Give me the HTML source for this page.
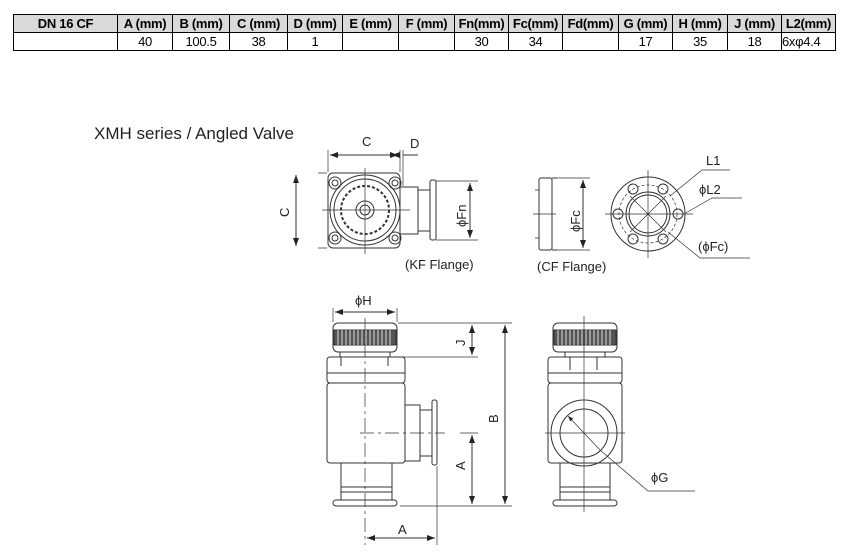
<!DOCTYPE html>
<html><head><meta charset="utf-8"><style>
body{margin:0;width:848px;height:552px;background:#fff;overflow:hidden;position:relative;font-family:"Liberation Sans",Arial,sans-serif}
table{position:absolute;left:13px;top:14px;border-collapse:collapse;table-layout:fixed;width:822px}
td{border:1px solid #000;height:17px;padding:0;font-size:13px;text-align:center;line-height:16px;white-space:nowrap;overflow:hidden;letter-spacing:-0.3px}
tr.h td{background:#d9d9d9;font-weight:bold}
svg{position:absolute;left:0;top:0}
</style></head><body>
<table>
<colgroup><col style="width:104px"><col style="width:55px"><col style="width:57px"><col style="width:58px"><col style="width:55px"><col style="width:56px"><col style="width:56px"><col style="width:54px"><col style="width:54px"><col style="width:56px"><col style="width:54px"><col style="width:55px"><col style="width:54px"><col style="width:54px"></colgroup>
<tr class="h"><td>DN 16 CF</td><td>A (mm)</td><td>B (mm)</td><td>C (mm)</td><td>D (mm)</td><td>E (mm)</td><td>F (mm)</td><td>Fn(mm)</td><td>Fc(mm)</td><td>Fd(mm)</td><td>G (mm)</td><td>H (mm)</td><td>J (mm)</td><td>L2(mm)</td></tr>
<tr><td></td><td>40</td><td>100.5</td><td>38</td><td>1</td><td></td><td></td><td>30</td><td>34</td><td></td><td>17</td><td>35</td><td>18</td><td style="text-align:left">6xφ4.4</td></tr>
</table>
<svg width="848" height="552" viewBox="0 0 848 552" font-family="Liberation Sans,Arial,sans-serif" fill="none" stroke="#333" stroke-width="1">
<defs><marker id="a" markerWidth="8" markerHeight="6" refX="8" refY="3" orient="auto-start-reverse"><path d="M0,0L8,3L0,6z" fill="#222" stroke="none"/></marker></defs>
<text x="94" y="139" font-size="17" fill="#222" stroke="none">XMH series / Angled Valve</text>
<!-- top view KF -->
<g>
<rect x="328" y="173" width="72" height="75" rx="5"/>
<circle cx="365" cy="210" r="35"/><circle cx="365" cy="210" r="31"/><circle cx="365" cy="210" r="24" stroke-dasharray="3 2" stroke-width="2"/><circle cx="365" cy="210" r="9"/><circle cx="365" cy="210" r="5"/>
<circle cx="335" cy="183" r="6"/><circle cx="395" cy="183" r="6"/><circle cx="335" cy="238" r="6"/><circle cx="395" cy="238" r="6"/>
<circle cx="335" cy="183" r="3"/><circle cx="395" cy="183" r="3"/><circle cx="335" cy="238" r="3"/><circle cx="395" cy="238" r="3"/>
<rect x="400" y="187" width="18" height="47"/><rect x="418" y="190" width="12" height="41"/><rect x="430" y="180" width="6" height="60" rx="2"/>
<path d="M322 210H410M365 168V254" stroke-width="0.7"/>
<path d="M328 150V172M400 150V172M403 150V186M318 173H327M318 248H327M436 181H478M436 240H478" stroke-width="0.7"/>
<path d="M330 155H398" marker-start="url(#a)" marker-end="url(#a)"/>
<path d="M392 155H400M403 155H418" marker-start="url(#a)"/>
<path d="M296 175V246" marker-start="url(#a)" marker-end="url(#a)"/>
<path d="M470 183V238" marker-start="url(#a)" marker-end="url(#a)"/>
<text x="362" y="146" font-size="13" fill="#222" stroke="none">C</text>
<text x="410" y="148" font-size="13" fill="#222" stroke="none">D</text>
<text transform="translate(289,217) rotate(-90)" font-size="13" fill="#222" stroke="none">C</text>
<text transform="translate(466,227) rotate(-90)" font-size="13" fill="#222" stroke="none">ϕFn</text>
<text x="405" y="269" font-size="13" fill="#222" stroke="none">(KF Flange)</text>
</g>
<!-- CF side -->
<g>
<rect x="539" y="178" width="13" height="72" rx="2"/><path d="M552 178H557M552 250H557"/>
<path d="M533 214H556M535 190H539M535 238H539" stroke-width="0.7"/>
<path d="M556 178H590M556 250H590" stroke-width="0.7"/>
<path d="M583 180V248" marker-start="url(#a)" marker-end="url(#a)"/>
<text transform="translate(580,232) rotate(-90)" font-size="13" fill="#222" stroke="none">ϕFc</text>
<text x="537" y="271" font-size="13" fill="#222" stroke="none">(CF Flange)</text>
</g>
<!-- CF front -->
<g>
<circle cx="648" cy="214" r="37"/><circle cx="648" cy="214" r="22"/><circle cx="648" cy="214" r="19"/>
<circle cx="648" cy="214" r="29" stroke-dasharray="3 2" stroke-width="0.7"/>
<circle cx="618" cy="214" r="5"/><circle cx="678" cy="214" r="5"/><circle cx="633" cy="189" r="5"/><circle cx="663" cy="189" r="5"/><circle cx="633" cy="239" r="5"/><circle cx="663" cy="239" r="5"/>
<path d="M605 214H693M648 170V258M630 196L666 232M666 196L630 232" stroke-width="0.7"/>
<path d="M670 196L702 170H730M684 214L712 198H742M668 232L700 258H750" stroke-width="0.7"/>
<text x="706" y="165" font-size="13" fill="#222" stroke="none">L1</text>
<text x="699" y="194" font-size="13" fill="#222" stroke="none">ϕL2</text>
<text x="698" y="251" font-size="13" fill="#222" stroke="none">(ϕFc)</text>
</g>
<!-- front valve -->
<g>
<rect x="333" y="323" width="64" height="29" rx="5"/>
<rect x="334" y="330" width="62" height="15" fill="#555"/>
<path d="M338 330V345M342 330V345M346 330V345M350 330V345M354 330V345M358 330V345M362 330V345M366 330V345M370 330V345M374 330V345M378 330V345M382 330V345M386 330V345M390 330V345" stroke="#ddd" stroke-width="1"/>
<rect x="340" y="352" width="50" height="5"/>
<rect x="327" y="357" width="78" height="26" rx="3"/><path d="M327 373H405M341 357V366M388 357V366"/>
<rect x="327" y="383" width="78" height="80" rx="3"/>
<rect x="405" y="405" width="15" height="56"/><rect x="420" y="410" width="12" height="46"/><rect x="432" y="400" width="5" height="65" rx="2"/>
<rect x="341" y="463" width="51" height="37"/><path d="M341 487H392M341 492H392"/>
<rect x="333" y="500" width="64" height="6" rx="3"/>
<path d="M365 318V545" stroke-dasharray="14 4 3 4" stroke-width="0.7"/>
<path d="M360 433H445" stroke-dasharray="14 4 3 4" stroke-width="0.7"/>
<path d="M333 308V322M397 308V322M398 323H512M398 357H478M437 466V545M400 506H512M460 433H478" stroke-width="0.7"/>
<path d="M335 312H395" marker-start="url(#a)" marker-end="url(#a)"/>
<path d="M472 325V355" marker-start="url(#a)" marker-end="url(#a)"/>
<path d="M505 325V504" marker-start="url(#a)" marker-end="url(#a)"/>
<path d="M472 435V504" marker-start="url(#a)" marker-end="url(#a)"/>
<path d="M367 538H435" marker-start="url(#a)" marker-end="url(#a)"/>
<text x="355" y="305" font-size="13" fill="#222" stroke="none">ϕH</text>
<text transform="translate(465,346) rotate(-90)" font-size="13" fill="#222" stroke="none">J</text>
<text transform="translate(498,423) rotate(-90)" font-size="13" fill="#222" stroke="none">B</text>
<text transform="translate(465,470) rotate(-90)" font-size="13" fill="#222" stroke="none">A</text>
<text x="398" y="534" font-size="13" fill="#222" stroke="none">A</text>
</g>
<!-- side valve -->
<g>
<rect x="553" y="323" width="64" height="29" rx="5"/>
<rect x="554" y="330" width="62" height="15" fill="#555"/>
<path d="M558 330V345M562 330V345M566 330V345M570 330V345M574 330V345M578 330V345M582 330V345M586 330V345M590 330V345M594 330V345M598 330V345M602 330V345M606 330V345M610 330V345" stroke="#ddd"/>
<rect x="565" y="352" width="40" height="5"/>
<rect x="548" y="357" width="74" height="26" rx="3"/><path d="M548 373H622M570 357V370M597 357V370"/>
<rect x="548" y="383" width="74" height="80" rx="3"/>
<circle cx="584" cy="433" r="33"/><circle cx="584" cy="433" r="24"/>
<rect x="560" y="463" width="50" height="37"/><path d="M560 487H610M560 492H610"/>
<rect x="553" y="500" width="64" height="6" rx="3"/>
<path d="M584 316V512M545 433H625" stroke-width="0.7"/>
<path d="M568 416L600 450M600 450L648 491H695" stroke-width="0.7" marker-start="url(#a)"/>
<text x="651" y="482" font-size="13" fill="#222" stroke="none">ϕG</text>
</g>
</svg>
</body></html>
